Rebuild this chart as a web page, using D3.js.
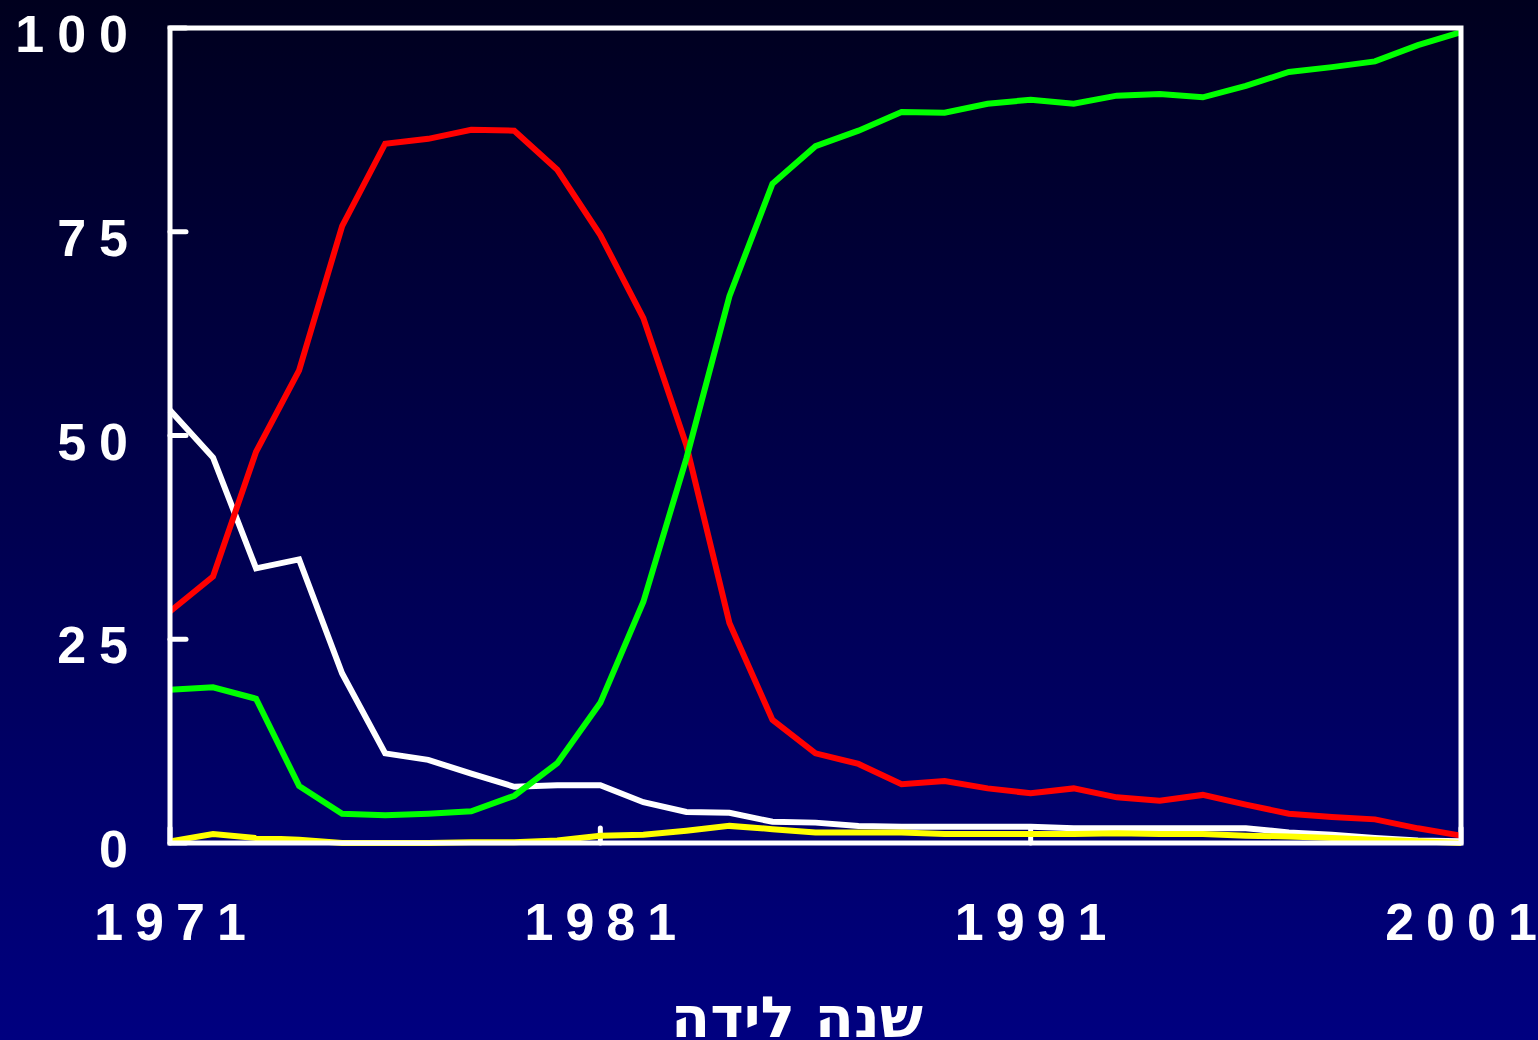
<!DOCTYPE html>
<html>
<head>
<meta charset="utf-8">
<script src="https://cdn.jsdelivr.net/npm/d3@7"></script>
<style>
  html, body { margin: 0; padding: 0; background: #000050; overflow: hidden; }
  text { font-family: "Liberation Sans", Arial, sans-serif; font-weight: bold; fill: white; }
</style>
</head>
<body>
<svg id="chart"></svg>
<script>
var W = 1538, H = 1040;

// years of birth 1971..2001
var years = d3.range(1971, 2002);
var redValues = [28.4, 32.7, 48.0, 58.0, 75.7, 85.8, 86.4, 87.5, 87.4, 82.6,
  74.6, 64.4, 48.8, 27.0, 15.1, 11.0, 9.7, 7.2, 7.6, 6.7,
  6.1, 6.7, 5.6, 5.2, 5.9, 4.7, 3.6, 3.2, 2.9, 1.8, 0.9];
var greenValues = [18.8, 19.1, 17.7, 7.0, 3.6, 3.4, 3.6, 3.9, 5.8, 9.8,
  17.2, 29.6, 47.2, 67.1, 80.9, 85.5, 87.4, 89.7, 89.6, 90.7,
  91.2, 90.7, 91.7, 91.9, 91.5, 92.9, 94.6, 95.2, 95.9, 97.9, 99.5];
var whiteValues = [53.1, 47.3, 33.7, 34.8, 20.8, 11.0, 10.2, 8.5, 6.9, 7.1,
  7.1, 5.0, 3.8, 3.7, 2.6, 2.5, 2.1, 2.0, 2.0, 2.0,
  2.0, 1.8, 1.8, 1.8, 1.8, 1.8, 1.3, 1.0, 0.6, 0.3, 0.2];
var yellowValues = [0.2, 1.1, 0.6, 0.4, 0, 0, 0, 0.1, 0.1, 0.3,
  0.9, 1.0, 1.5, 2.1, 1.7, 1.3, 1.3, 1.3, 1.1, 1.1,
  1.1, 1.1, 1.2, 1.1, 1.1, 0.9, 0.8, 0.6, 0.4, 0.2, 0];

var yTicks = [0, 25, 50, 75, 100];
var xTicks = [1971, 1981, 1991, 2001];
var xTitle = "שנה לידה";

var series = [
  { name: "white", color: "#ffffff", values: whiteValues },
  { name: "red", color: "#ff0000", values: redValues },
  { name: "green", color: "#00ff00", values: greenValues },
  { name: "yellow", color: "#ffff00", values: yellowValues }
];

// plot box
var pLeft = 170, pRight = 1461, pTop = 28, pBottom = 843;

var svg = d3.select("#chart")
  .attr("width", W)
  .attr("height", H);

var defs = svg.append("defs");
var grad = defs.append("linearGradient")
  .attr("id", "bg")
  .attr("x1", 0).attr("y1", 0)
  .attr("x2", 0).attr("y2", 1);
grad.append("stop").attr("offset", "0%").attr("stop-color", "#00001e");
grad.append("stop").attr("offset", "100%").attr("stop-color", "#000080");

svg.append("rect")
  .attr("width", W)
  .attr("height", H)
  .attr("fill", "url(#bg)");

var x = d3.scaleLinear().domain([1971, 2001]).range([pLeft, pRight]);
var y = d3.scaleLinear().domain([0, 100]).range([pBottom, pTop]);

// y ticks pointing inward
svg.append("g")
  .selectAll("line")
  .data(yTicks)
  .join("line")
  .attr("x1", pLeft)
  .attr("x2", pLeft + 16)
  .attr("y1", d => y(d))
  .attr("y2", d => y(d))
  .attr("stroke", "white")
  .attr("stroke-width", 5)
  .attr("stroke-linecap", "round");

// x ticks pointing inward
svg.append("g")
  .selectAll("line")
  .data(xTicks)
  .join("line")
  .attr("x1", d => x(d))
  .attr("x2", d => x(d))
  .attr("y1", pBottom)
  .attr("y2", pBottom - 15)
  .attr("stroke", "white")
  .attr("stroke-width", 5)
  .attr("stroke-linecap", "round");

// y labels
svg.append("g")
  .selectAll("text")
  .data(yTicks)
  .join("text")
  .attr("x", 141)
  .attr("y", d => y(d) + 24)
  .attr("text-anchor", "end")
  .style("font-size", "52px")
  .style("letter-spacing", "13px")
  .text(d => d);

// x labels
svg.append("g")
  .selectAll("text")
  .data(xTicks)
  .join("text")
  .attr("x", d => x(d) + 6)
  .attr("y", 940)
  .attr("text-anchor", "middle")
  .style("font-size", "52px")
  .style("letter-spacing", "12px")
  .text(d => d);

// axis title
svg.append("text")
  .attr("x", 797)
  .attr("y", 1037)
  .attr("text-anchor", "middle")
  .attr("direction", "rtl")
  .style("font-family", "'DejaVu Sans', sans-serif")
  .style("font-size", "57px")
  .text(xTitle);

var line = d3.line()
  .x((d, i) => x(years[i]))
  .y(d => y(d));

svg.append("g")
  .selectAll("path")
  .data(series)
  .join("path")
  .attr("d", d => line(d.values))
  .attr("fill", "none")
  .attr("stroke", d => d.color)
  .attr("stroke-width", 6)
  .attr("stroke-linejoin", "miter");

// frame
svg.append("rect")
  .attr("x", pLeft)
  .attr("y", pTop)
  .attr("width", pRight - pLeft)
  .attr("height", pBottom - pTop)
  .attr("fill", "none")
  .attr("stroke", "white")
  .attr("stroke-width", 5);
</script>
</body>
</html>
